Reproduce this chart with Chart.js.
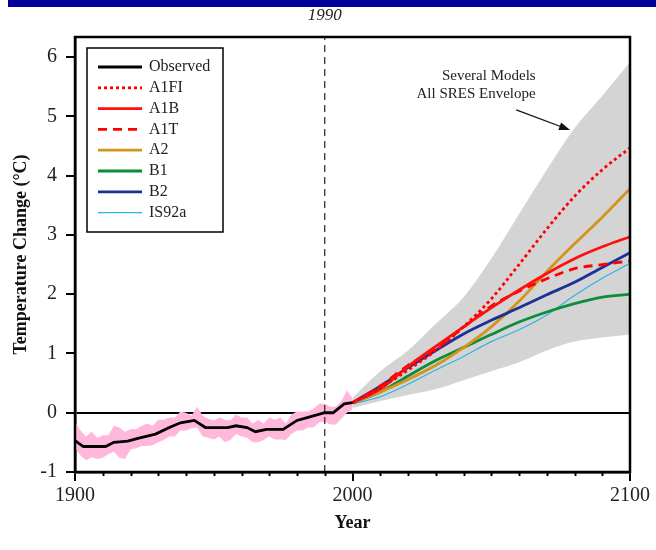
<!DOCTYPE html>
<html lang="en">
<head>
  <meta charset="UTF-8">
  <title>Temperature Change 1900-2100</title>
  <script src="https://cdn.jsdelivr.net/npm/chart.js"></script>
  <style>
    body { margin: 0; background: #fff; }
    canvas { display: block; }
  </style>
</head>
<body>
  <canvas id="tempChart" width="656" height="550"></canvas>

  <script>
    // Observed (smoothed) record
    const obsYears = [1900, 1903, 1911, 1914, 1919, 1923, 1929, 1934, 1938, 1943, 1947, 1955, 1958, 1962, 1965, 1969, 1975, 1980, 1984, 1990, 1993, 1997, 2000];
    const obsTemp  = [-0.47, -0.57, -0.57, -0.5, -0.48, -0.43, -0.36, -0.25, -0.17, -0.13, -0.25, -0.25, -0.22, -0.25, -0.32, -0.28, -0.28, -0.13, -0.08, 0.0, 0.0, 0.15, 0.17];

    // Annual spread (pink band), every 2 years 1900-2000
    const annYears = [];
    for (let y = 1900; y <= 2000; y += 2) annYears.push(y);
    const annHigh = [-0.15, -0.3, -0.4, -0.32, -0.42, -0.38, -0.38, -0.22, -0.25, -0.32,
                     -0.28, -0.28, -0.22, -0.18, -0.22, -0.12, -0.12, -0.08, -0.08, 0.02,
                     0.0, -0.05, 0.1, -0.05, -0.1, -0.13, -0.08, -0.12, -0.13, -0.03,
                     -0.08, -0.08, -0.18, -0.12, -0.18, -0.08, -0.12, -0.08, -0.18, -0.03,
                     0.02, 0.02, 0.02, 0.07, 0.15, 0.15, 0.1, 0.1, 0.2, 0.38, 0.25];
    const annLow  = [-0.6, -0.72, -0.8, -0.75, -0.78, -0.76, -0.7, -0.66, -0.76, -0.78,
                     -0.62, -0.6, -0.56, -0.56, -0.55, -0.5, -0.46, -0.4, -0.4, -0.3,
                     -0.3, -0.26, -0.25, -0.4, -0.42, -0.45, -0.4, -0.5, -0.46, -0.36,
                     -0.4, -0.42, -0.5, -0.5, -0.46, -0.4, -0.45, -0.45, -0.46, -0.36,
                     -0.3, -0.3, -0.25, -0.25, -0.16, -0.15, -0.2, -0.2, -0.1, 0.0, 0.05];

    // Projections
    const projYears = [2000, 2010, 2020, 2030, 2040, 2050, 2060, 2070, 2080, 2090, 2100];
    const envHigh = [0.25, 0.7, 1.05, 1.5, 1.95, 2.6, 3.35, 4.1, 4.8, 5.35, 5.92];
    const envLow  = [0.08, 0.2, 0.3, 0.4, 0.55, 0.7, 0.85, 1.05, 1.2, 1.27, 1.32];
    const a1fi  = [0.17, 0.42, 0.72, 1.05, 1.45, 1.92, 2.5, 3.1, 3.65, 4.1, 4.47];
    const a1b   = [0.17, 0.4, 0.78, 1.12, 1.45, 1.77, 2.07, 2.35, 2.6, 2.8, 2.97];
    const a1t   = [0.17, 0.45, 0.8, 1.08, 1.44, 1.8, 2.05, 2.26, 2.43, 2.5, 2.56];
    const a2    = [0.17, 0.35, 0.56, 0.8, 1.1, 1.45, 1.88, 2.38, 2.85, 3.3, 3.78];
    const b1    = [0.17, 0.35, 0.62, 0.88, 1.1, 1.32, 1.53, 1.7, 1.84, 1.95, 2.0];
    const b2    = [0.17, 0.45, 0.76, 1.05, 1.33, 1.56, 1.77, 1.99, 2.2, 2.45, 2.7];
    const is92a = [0.15, 0.27, 0.48, 0.72, 0.95, 1.2, 1.4, 1.65, 1.98, 2.27, 2.52];

    const legendNames = ['Observed', 'A1FI', 'A1B', 'A1T', 'A2', 'B1', 'B2', 'IS92a'];

    const serif = '"Liberation Serif", "DejaVu Serif", serif';
    const pts = (xs, ys) => xs.map((x, i) => ({ x: x, y: ys[i] }));

    const line = (label, ys, color, width, dash) => ({
      label: label,
      data: pts(projYears, ys),
      borderColor: color,
      borderWidth: width,
      borderDash: dash || [],
      pointRadius: 0,
      cubicInterpolationMode: 'monotone',
      fill: false
    });

    // Extra drawing: banner, frame, minor ticks, notes, legend
    const decor = {
      id: 'decor',
      beforeDraw(chart) {
        const c = chart.ctx;
        c.save();
        c.fillStyle = '#fff';
        c.fillRect(0, 0, chart.width, chart.height);
        c.fillStyle = '#000099';
        c.fillRect(8, 0, chart.width - 8, 7);
        c.restore();
      },
      afterDraw(chart) {
        const c = chart.ctx;
        const a = chart.chartArea;
        const xs = chart.scales.x, ys = chart.scales.y;
        c.save();

        // frame
        c.strokeStyle = '#000';
        c.lineWidth = 2.5;
        c.strokeRect(a.left, a.top, a.right - a.left, a.bottom - a.top);

        // minor decade ticks
        c.lineWidth = 2;
        for (let yr = 1910; yr < 2100; yr += 10) {
          if (yr === 2000) continue;
          const px = Math.round(xs.getPixelForValue(yr)) + 0.5;
          c.beginPath();
          c.moveTo(px, a.bottom);
          c.lineTo(px, a.bottom + 4);
          c.stroke();
        }

        // 1990 label
        c.fillStyle = '#222';
        c.font = 'italic 17px ' + serif;
        c.textAlign = 'center';
        c.textBaseline = 'middle';
        c.fillText('1990', xs.getPixelForValue(1990), 16);

        // envelope note + arrow
        c.font = '15px ' + serif;
        c.textAlign = 'right';
        const tx = xs.getPixelForValue(2066);
        c.fillText('Several Models', tx, ys.getPixelForValue(5.68));
        c.fillText('All SRES Envelope', tx, ys.getPixelForValue(5.38));
        const x0 = xs.getPixelForValue(2059), y0 = ys.getPixelForValue(5.11);
        const x1 = xs.getPixelForValue(2078.4), y1 = ys.getPixelForValue(4.77);
        const ang = Math.atan2(y1 - y0, x1 - x0);
        c.strokeStyle = '#111';
        c.lineWidth = 1.3;
        c.beginPath();
        c.moveTo(x0, y0);
        c.lineTo(x1 - 8 * Math.cos(ang), y1 - 8 * Math.sin(ang));
        c.stroke();
        c.fillStyle = '#111';
        c.beginPath();
        c.moveTo(x1, y1);
        c.lineTo(x1 - 11 * Math.cos(ang) + 4 * Math.sin(ang), y1 - 11 * Math.sin(ang) - 4 * Math.cos(ang));
        c.lineTo(x1 - 11 * Math.cos(ang) - 4 * Math.sin(ang), y1 - 11 * Math.sin(ang) + 4 * Math.cos(ang));
        c.closePath();
        c.fill();

        // legend box
        const bx = a.left + 12, by = a.top + 11, bw = 136, bh = 184;
        c.fillStyle = '#fff';
        c.fillRect(bx, by, bw, bh);
        c.strokeStyle = '#000';
        c.lineWidth = 1.5;
        c.strokeRect(bx, by, bw, bh);
        c.font = '16px ' + serif;
        c.textAlign = 'left';
        c.textBaseline = 'middle';
        legendNames.forEach((name, i) => {
          const ds = chart.data.datasets.find(d => d.label === name);
          const ly = by + 19 + i * 20.8;
          c.strokeStyle = ds.borderColor;
          c.lineWidth = ds.borderWidth;
          c.setLineDash(ds.borderDash || []);
          c.beginPath();
          c.moveTo(bx + 11, ly);
          c.lineTo(bx + 55, ly);
          c.stroke();
          c.setLineDash([]);
          c.fillStyle = '#222';
          c.fillText(name, bx + 62, ly);
        });
        c.restore();
      }
    };

    const ctx = document.getElementById('tempChart').getContext('2d');
    new Chart(ctx, {
      type: 'line',
      data: {
        datasets: [
          {
            label: 'Observed',
            data: pts(obsYears, obsTemp),
            borderColor: '#000',
            borderWidth: 2.8,
            pointRadius: 0,
            tension: 0,
            fill: false
          },
          line('A1FI', a1fi, '#ff0000', 2.8, [3, 3]),
          line('A1B', a1b, '#ff1010', 2.8),
          line('A1T', a1t, '#ff0000', 2.8, [9, 6]),
          line('B2', b2, '#1c3196', 2.8),
          line('A2', a2, '#d4941c', 2.8),
          line('B1', b1, '#0c8c3c', 2.8),
          line('IS92a', is92a, '#29b6e0', 1.2),
          {
            label: '1990 marker',
            data: [{ x: 1990, y: -1 }, { x: 1990, y: 6.34 }],
            borderColor: '#222',
            borderWidth: 1.2,
            borderDash: [7, 5],
            pointRadius: 0,
            fill: false
          },
          {
            label: 'annual high',
            data: pts(annYears, annHigh),
            borderWidth: 0,
            pointRadius: 0,
            backgroundColor: '#ffb8dc',
            fill: '+1'
          },
          {
            label: 'annual low',
            data: pts(annYears, annLow),
            borderWidth: 0,
            pointRadius: 0,
            fill: false
          },
          {
            label: 'envelope high',
            data: pts(projYears, envHigh),
            borderWidth: 0,
            pointRadius: 0,
            cubicInterpolationMode: 'monotone',
            backgroundColor: '#d4d4d4',
            fill: '+1'
          },
          {
            label: 'envelope low',
            data: pts(projYears, envLow),
            borderWidth: 0,
            pointRadius: 0,
            cubicInterpolationMode: 'monotone',
            fill: false
          }
        ]
      },
      options: {
        responsive: false,
        animation: false,
        layout: { padding: { left: 0, right: 26, top: 37, bottom: 0 } },
        plugins: {
          legend: { display: false },
          tooltip: { enabled: false }
        },
        scales: {
          x: {
            type: 'linear',
            min: 1900,
            max: 2100,
            afterFit: (s) => { s.height = 78; },
            border: { color: '#000', width: 2.5 },
            grid: { drawOnChartArea: false, drawTicks: true, tickLength: 9, tickColor: '#000', lineWidth: 2 },
            ticks: {
              stepSize: 100,
              padding: 3,
              color: '#222',
              font: { family: serif, size: 20 },
              maxRotation: 0,
              callback: (v) => String(v)
            },
            title: {
              display: true,
              text: 'Year',
              color: '#111',
              font: { family: serif, size: 18, weight: 'bold' },
              padding: { top: 0, bottom: 16 }
            }
          },
          y: {
            min: -1,
            max: 6.34,
            afterFit: (s) => { s.width = 75; },
            border: { color: '#000', width: 2.5 },
            grid: {
              drawOnChartArea: true,
              drawTicks: true,
              tickLength: 9,
              tickColor: '#000',
              lineWidth: 2,
              color: (c) => (c.tick && c.tick.value === 0 ? '#000' : 'rgba(0,0,0,0)')
            },
            ticks: {
              stepSize: 1,
              includeBounds: false,
              padding: 9,
              color: '#222',
              font: { family: serif, size: 20 }
            },
            title: {
              display: true,
              text: 'Temperature Change (°C)',
              color: '#111',
              font: { family: serif, size: 18, weight: 'bold' },
              padding: { top: 11, bottom: 0 }
            }
          }
        }
      },
      plugins: [decor]
    });
  </script>
</body>
</html>
